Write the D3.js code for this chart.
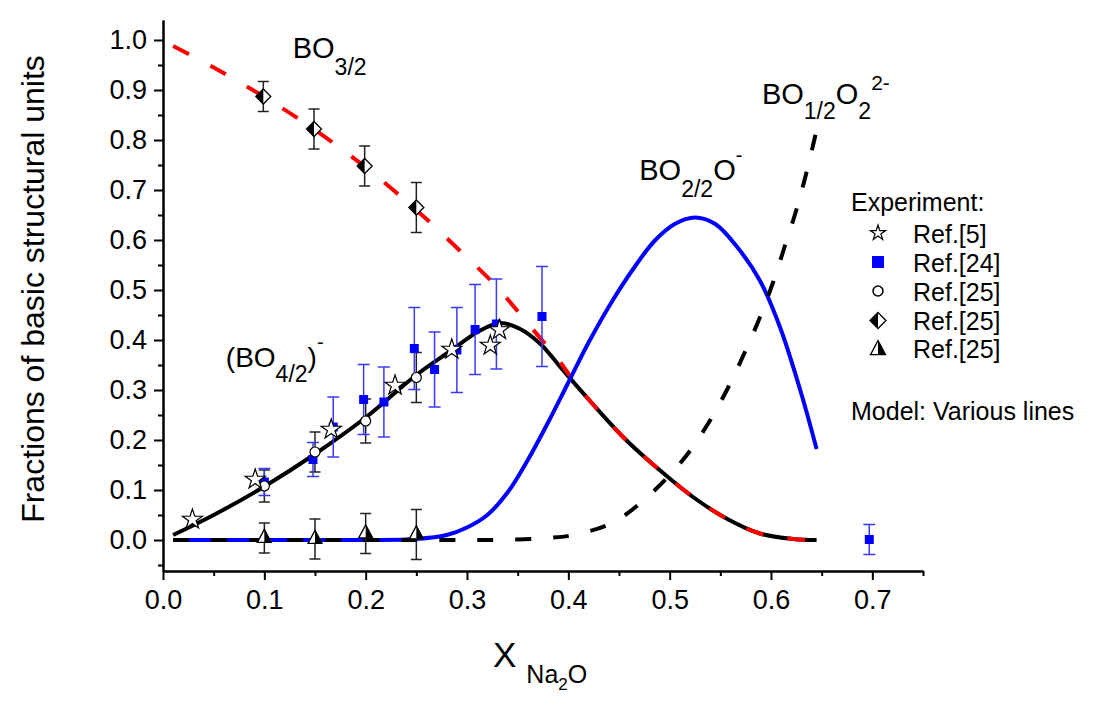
<!DOCTYPE html>
<html>
<head>
<meta charset="utf-8">
<script src="https://cdn.jsdelivr.net/npm/d3@7"></script>
<style>
  html, body { margin: 0; padding: 0; background: #fff; }
  svg { display: block; font-family: "Liberation Sans", Arial, sans-serif; }
</style>
</head>
<body>
<svg id="chart" width="1101" height="708"></svg>
<script>
// ---------- data ----------
const xTicks = [0.0, 0.1, 0.2, 0.3, 0.4, 0.5, 0.6, 0.7];
const yTicks = [0.0, 0.1, 0.2, 0.3, 0.4, 0.5, 0.6, 0.7, 0.8, 0.9, 1.0];

// model curves
const bo4X = [0.01,0.05,0.1,0.15,0.2,0.25,0.28,0.313,0.333,0.352,0.372,0.395,0.421,0.457,0.49,0.523,0.556,0.589,0.622,0.645];
const bo4Y = [0.01,0.05,0.107,0.172,0.245,0.33,0.373,0.419,0.434,0.4225,0.393,0.339,0.279,0.2,0.14,0.086,0.043,0.013,0.002,0.0];

const bo3X = [0.01,0.05,0.1,0.15,0.2,0.25,0.3,0.33,0.36,0.39,0.4,0.421,0.457,0.49,0.523,0.556,0.589,0.622,0.645];
const bo3Y = [0.988,0.945,0.886,0.82,0.745,0.66,0.565,0.505,0.433,0.361,0.333,0.279,0.2,0.14,0.086,0.043,0.013,0.002,0.0];

const bo2X = [0.01,0.1,0.2,0.25,0.28,0.3,0.32,0.34,0.36,0.38,0.4,0.42,0.444,0.465,0.485,0.505,0.525,0.545,0.567,0.589,0.609,0.63,0.645];
const bo2Y = [0.0,0.0,0.0,0.002,0.01,0.025,0.05,0.095,0.16,0.235,0.315,0.395,0.48,0.545,0.598,0.632,0.645,0.632,0.585,0.519,0.425,0.292,0.182];

const bo1X = [0.01,0.2,0.3,0.35,0.38,0.405,0.444,0.48,0.513,0.538,0.558,0.574,0.589,0.602,0.614,0.625,0.635,0.645];
const bo1Y = [0.0,0.0,0.0,0.001,0.004,0.01,0.035,0.09,0.16,0.233,0.306,0.375,0.445,0.515,0.59,0.66,0.735,0.82];

// experiment: Ref.[5] stars
const starX = [0.029,0.091,0.166,0.229,0.285,0.323,0.332];
const starY = [0.041,0.121,0.221,0.309,0.381,0.389,0.42];
// Ref.[24] blue squares
const sqX = [0.1,0.148,0.168,0.198,0.218,0.248,0.268,0.29,0.308,0.329,0.374,0.697];
const sqY = [0.116,0.161,0.226,0.281,0.276,0.383,0.341,0.38,0.421,0.432,0.447,0.001];
const sqE = [0.027,0.034,0.06,0.07,0.07,0.082,0.075,0.085,0.09,0.09,0.1,0.03];
// Ref.[25] open circles
const ciX = [0.1,0.15,0.2,0.25];
const ciY = [0.108,0.176,0.238,0.325];
const ciE = [0.032,0.04,0.044,0.05];
// Ref.[25] half diamonds
const diX = [0.099,0.149,0.199,0.25];
const diY = [0.887,0.822,0.748,0.665];
const diE = [0.03,0.04,0.04,0.05];
// Ref.[25] half triangles
const trX = [0.1,0.15,0.2,0.25];
const trY = [0.004,0.002,0.013,0.011];
const trE = [0.03,0.04,0.04,0.05];

const legendLabels = ["Ref.[5]", "Ref.[24]", "Ref.[25]", "Ref.[25]", "Ref.[25]"];

// ---------- setup ----------
const svg = d3.select("#chart");
const x = d3.scaleLinear().domain([0, 0.75]).range([163, 923]);
const y = d3.scaleLinear().domain([-0.062, 1.04]).range([571, 20]);
const zip = (a, b) => a.map((v, i) => [v, b[i]]);
const FONT = "'Liberation Sans', Arial, sans-serif";

// ---------- axes ----------
const fmt = d3.format(".1f");
const gx = svg.append("g").attr("transform", `translate(0,${y.range()[0]})`)
  .call(d3.axisBottom(x).tickValues(xTicks).tickFormat(fmt).tickSize(9).tickSizeOuter(0).tickPadding(10));
const gxm = svg.append("g").attr("transform", `translate(0,${y.range()[0]})`)
  .call(d3.axisBottom(x).tickValues(d3.range(0.05, 0.76, 0.1)).tickFormat("").tickSize(5).tickSizeOuter(0));
const gy = svg.append("g").attr("transform", `translate(${x.range()[0]},0)`)
  .call(d3.axisLeft(y).tickValues(yTicks).tickFormat(fmt).tickSize(9).tickSizeOuter(0).tickPadding(7));
const gym = svg.append("g").attr("transform", `translate(${x.range()[0]},0)`)
  .call(d3.axisLeft(y).tickValues(d3.range(-0.05, 1.0, 0.1)).tickFormat("").tickSize(5).tickSizeOuter(0));
[gx, gxm, gy, gym].forEach(g => {
  g.selectAll("path.domain").attr("stroke", "#000").attr("stroke-width", 2);
  g.selectAll(".tick line").attr("stroke", "#000").attr("stroke-width", 2);
  g.selectAll("text").attr("font-family", FONT).attr("font-size", 27).attr("fill", "#000");
});

// axis titles
svg.append("text")
  .attr("transform", "translate(44,289) rotate(-90)")
  .attr("text-anchor", "middle")
  .attr("font-family", FONT).attr("font-size", 32)
  .text("Fractions of basic structural units");

const xt = svg.append("text").attr("x", 493).attr("y", 667).attr("font-family", FONT);
xt.append("tspan").attr("font-size", 35).text("X");
xt.append("tspan").attr("font-size", 25).attr("dx", 10).attr("dy", 16).text("Na");
xt.append("tspan").attr("font-size", 17).attr("dy", 7).text("2");
xt.append("tspan").attr("font-size", 25).attr("dy", -7).text("O");

// ---------- model curves ----------
const line = d3.line().x(d => x(d[0])).y(d => y(d[1])).curve(d3.curveCatmullRom.alpha(0.5));
svg.append("path").attr("d", line(zip(bo4X, bo4Y)))
  .attr("fill", "none").attr("stroke", "#000").attr("stroke-width", 4);
svg.append("path").attr("d", line(zip(bo3X, bo3Y)))
  .attr("fill", "none").attr("stroke", "#ff0000").attr("stroke-width", 4)
  .attr("stroke-dasharray", "18,24");
svg.append("path").attr("d", line(zip(bo2X, bo2Y)))
  .attr("fill", "none").attr("stroke", "#0000ff").attr("stroke-width", 4);
svg.append("path").attr("d", line(zip(bo1X, bo1Y)))
  .attr("fill", "none").attr("stroke", "#000").attr("stroke-width", 4)
  .attr("stroke-dasharray", "16,22");

// ---------- error bars ----------
function errBars(xs, ys, es, color, cap) {
  const g = svg.append("g").attr("stroke", color).attr("stroke-width", 1.5).attr("fill", "none");
  xs.forEach((xv, i) => {
    const cx = x(xv), t = y(ys[i] + es[i]), b = y(ys[i] - es[i]);
    g.append("line").attr("x1", cx).attr("x2", cx).attr("y1", t).attr("y2", b);
    g.append("line").attr("x1", cx - cap).attr("x2", cx + cap).attr("y1", t).attr("y2", t);
    g.append("line").attr("x1", cx - cap).attr("x2", cx + cap).attr("y1", b).attr("y2", b);
  });
}
errBars(diX, diY, diE, "#222", 5.5);
errBars(trX, trY, trE, "#222", 5.5);
errBars(ciX, ciY, ciE, "#222", 5.5);
errBars(sqX, sqY, sqE, "#3a3aff", 6);

// ---------- markers ----------
function halfDiamond(g, cx, cy, r) {
  g.append("path").attr("d", `M${cx},${cy - r}L${cx + r},${cy}L${cx},${cy + r}L${cx - r},${cy}Z`)
    .attr("fill", "#fff").attr("stroke", "#000").attr("stroke-width", 1.3);
  g.append("path").attr("d", `M${cx},${cy - r}L${cx},${cy + r}L${cx - r},${cy}Z`)
    .attr("fill", "#000");
}
function halfTriangle(g, cx, cy, w, h) {
  const top = cy - h * 2 / 3, bot = cy + h / 3;
  g.append("path").attr("d", `M${cx},${top}L${cx + w / 2},${bot}L${cx - w / 2},${bot}Z`)
    .attr("fill", "#fff").attr("stroke", "#000").attr("stroke-width", 1.3).attr("stroke-linejoin", "miter");
  g.append("path").attr("d", `M${cx},${top}L${cx + w / 2},${bot}L${cx},${bot}Z`)
    .attr("fill", "#000");
}
const starPath = r => d3.symbol(d3.symbolStar, r * r / 0.8908130915292852)();

const mk = svg.append("g");
sqX.forEach((xv, i) => {
  mk.append("rect").attr("x", x(xv) - 4.5).attr("y", y(sqY[i]) - 4.5)
    .attr("width", 9).attr("height", 9).attr("fill", "#0000ff");
});
ciX.forEach((xv, i) => {
  mk.append("circle").attr("cx", x(xv)).attr("cy", y(ciY[i])).attr("r", 5)
    .attr("fill", "#fff").attr("stroke", "#000").attr("stroke-width", 1.2);
});
diX.forEach((xv, i) => halfDiamond(mk, x(xv), y(diY[i]), 7.5));
trX.forEach((xv, i) => halfTriangle(mk, x(xv), y(trY[i]), 14, 13));
starX.forEach((xv, i) => {
  mk.append("path").attr("d", starPath(10.5))
    .attr("transform", `translate(${x(xv)},${y(starY[i])})`)
    .attr("fill", "#fff").attr("stroke", "#000").attr("stroke-width", 1.2);
});

// ---------- annotations ----------
function chem(px, py, parts) {
  const t = svg.append("text").attr("x", x(px)).attr("y", y(py))
    .attr("font-family", FONT).attr("fill", "#000");
  let cur = 0;
  parts.forEach(([txt, size, off]) => {
    t.append("tspan").attr("font-size", size).attr("dy", off - cur).text(txt);
    cur = off;
  });
}
chem(0.128, 0.964, [["BO", 29, 0], ["3/2", 23, 17]]);
chem(0.062, 0.3466, [["(BO", 28, 0], ["4/2", 23, 15], [")", 28, 0], ["-", 20, -18]]);
chem(0.47, 0.72, [["BO", 29, 0], ["2/2", 23, 17], ["O", 29, 0], ["-", 20, -18]]);
chem(0.591, 0.873, [["BO", 29, 0], ["1/2", 23, 15], ["O", 29, 0], ["2", 23, 15], ["2-", 21, -14]]);

// ---------- legend ----------
const lg = svg.append("g").attr("font-family", FONT).attr("font-size", 25);
lg.append("text").attr("x", 851).attr("y", 211).text("Experiment:");
const lgBase = [243, 272, 301, 329.5, 358];
legendLabels.forEach((lab, i) => {
  lg.append("text").attr("x", 913).attr("y", lgBase[i]).text(lab);
});
const sx = 878;
lg.append("path").attr("d", starPath(8)).attr("transform", `translate(${sx},${lgBase[0] - 10})`)
  .attr("fill", "#fff").attr("stroke", "#000").attr("stroke-width", 1.2);
lg.append("rect").attr("x", sx - 6).attr("y", lgBase[1] - 16).attr("width", 12).attr("height", 12).attr("fill", "#0000ff");
lg.append("circle").attr("cx", sx).attr("cy", lgBase[2] - 10).attr("r", 5)
  .attr("fill", "#fff").attr("stroke", "#000").attr("stroke-width", 1.5);
halfDiamond(lg, sx, lgBase[3] - 9, 8);
halfTriangle(lg, sx, lgBase[4] - 8, 15, 14);
lg.append("text").attr("x", 851).attr("y", 420).text("Model: Various lines");
</script>
</body>
</html>
